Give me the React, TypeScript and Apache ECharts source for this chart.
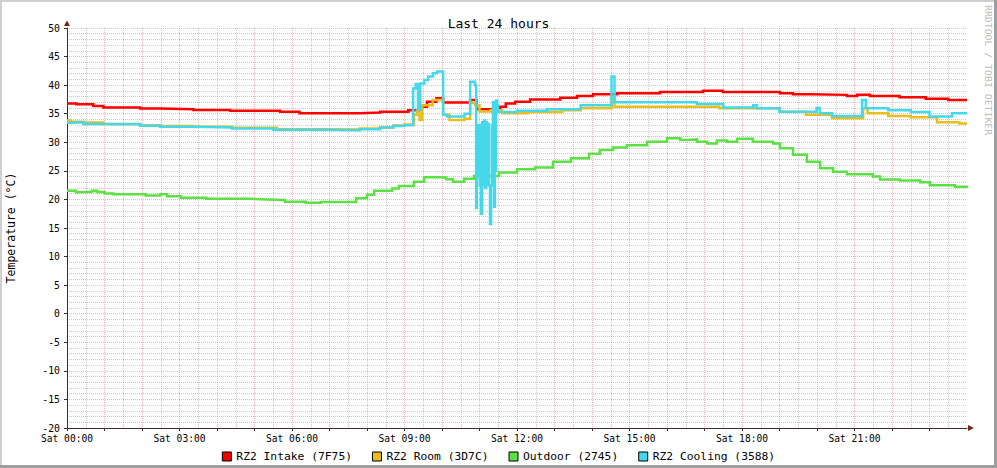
import React, { useEffect, useRef } from "react";
import * as echarts from "echarts";

const FONT = "'DejaVu Sans Mono', monospace";

// x tick labels (hours of Saturday)
const xLabelHours = [0, 3, 6, 9, 12, 15, 18, 21];
const dayName = "Sat";
const titleText = "Last 24 hours";
const yName = "Temperature (°C)";
const watermark = "RRDTOOL / TOBI OETIKER";

const seriesNames = ["RZ2 Intake (7F75)", "RZ2 Room (3D7C)", "Outdoor (2745)", "RZ2 Cooling (3588)"];
const seriesColors = ["#FF0000", "#E8BE1C", "#5CE044", "#44D8EA"];

// RZ2 Intake: hour at which value starts, value
const intakeT = [0, 0.25, 0.7, 0.97, 1.95, 2.48, 3.37, 4.35, 5.68, 6.2, 7.8, 8.35, 9.1, 9.4, 9.6, 9.85, 10.03, 10.75, 10.92, 11.55, 11.7, 11.95, 12.35, 13.15, 13.6, 14.03, 14.67, 15.81, 16.96, 17.49, 19.01, 19.36, 19.81, 20.8, 21.07, 21.41, 22.2, 22.9, 23.5, 24];
const intakeV = [36.8, 36.65, 36.35, 36.1, 35.9, 35.8, 35.65, 35.5, 35.35, 35.1, 35.2, 35.35, 35.6, 36.2, 37.1, 37.7, 36.95, 37.4, 35.8, 36.2, 36.8, 37.1, 37.5, 37.8, 38.1, 38.4, 38.6, 38.8, 39.0, 38.8, 38.6, 38.4, 38.3, 38.1, 38.3, 38.1, 37.9, 37.6, 37.4, 37.4];

// RZ2 Room
const roomT = [0, 0.1, 0.44, 0.97, 1.95, 2.48, 3.37, 4.4, 5.6, 6.9, 7.81, 8.35, 8.7, 9.0, 9.25, 9.33, 9.4, 9.47, 9.75, 10.03, 10.2, 10.6, 10.75, 10.88, 11.0, 11.3, 11.6, 12.3, 13.2, 13.7, 14.52, 14.6, 17.4, 19.0, 19.7, 20.4, 21.23, 21.35, 21.9, 22.5, 23.2, 23.8, 24];
const roomV = [33.8, 33.6, 33.45, 33.2, 33.0, 32.85, 32.7, 32.55, 32.3, 32.25, 32.4, 32.6, 32.95, 33.1, 34.8, 35.5, 33.9, 36.5, 37.4, 34.8, 33.9, 34.1, 36.9, 36.5, 35.4, 35.6, 35.1, 35.3, 35.6, 35.95, 37.7, 36.2, 35.95, 35.35, 34.8, 34.2, 35.95, 35.1, 34.6, 34.4, 33.5, 33.3, 33.3];

// Outdoor
const outT = [0, 0.24, 0.37, 0.67, 0.81, 1.0, 1.24, 2.1, 2.48, 2.67, 3.04, 3.71, 4.96, 5.33, 5.81, 6.37, 6.77, 7.71, 8.0, 8.19, 8.67, 8.85, 9.25, 9.52, 9.92, 10.11, 10.29, 10.59, 10.85, 11.52, 12.0, 12.48, 12.96, 13.44, 13.92, 14.21, 14.56, 14.93, 15.47, 16.0, 16.35, 16.53, 16.8, 17.07, 17.33, 17.6, 17.87, 18.29, 18.83, 19.01, 19.36, 19.73, 20.08, 20.43, 20.8, 21.49, 21.68, 22.21, 22.75, 23.01, 23.68, 24];
const outV = [21.5, 21.25, 21.35, 21.5, 21.3, 21.05, 20.9, 20.7, 20.9, 20.55, 20.3, 20.1, 20.0, 19.9, 19.6, 19.4, 19.55, 20.2, 20.8, 21.5, 21.9, 22.35, 23.1, 23.9, 23.85, 23.55, 23.1, 23.6, 24.1, 24.7, 25.3, 25.6, 26.6, 27.2, 28.0, 28.65, 29.1, 29.5, 30.1, 30.7, 30.4, 30.5, 30.1, 29.8, 30.3, 30.1, 30.6, 30.1, 29.8, 28.95, 27.8, 26.6, 25.45, 24.85, 24.4, 24.0, 23.5, 23.3, 23.0, 22.5, 22.2, 22.0];

// RZ2 Cooling
const coolT = [0, 0.1, 0.44, 0.97, 1.95, 2.48, 3.37, 4.4, 5.5, 6.9, 7.81, 8.35, 8.7, 9.0, 9.23, 9.3, 9.36, 9.42, 9.53, 9.63, 9.76, 9.87, 10.03, 10.13, 10.6, 10.75, 10.88, 10.91, 10.93, 10.96, 10.99, 11.01, 11.04, 11.07, 11.09, 11.12, 11.15, 11.17, 11.2, 11.23, 11.25, 11.28, 11.31, 11.33, 11.36, 11.39, 11.41, 11.44, 11.47, 11.49, 12.0, 12.8, 13.7, 14.52, 14.6, 16.8, 17.5, 18.3, 18.4, 19.0, 19.99, 20.07, 20.4, 21.2, 21.3, 21.9, 22.5, 23.0, 23.6, 24];
const coolV = [33.4, 33.5, 33.2, 33.15, 32.9, 32.7, 32.6, 32.4, 32.2, 32.1, 32.3, 32.6, 32.85, 33.0, 39.4, 40.2, 35.65, 40.3, 40.9, 41.5, 42.1, 42.4, 34.8, 34.5, 35.0, 40.6, 40.0, 18.5, 33.0, 24.0, 33.0, 22.5, 17.5, 33.5, 22.5, 33.8, 22.0, 33.5, 22.5, 33.2, 22.5, 15.7, 22.5, 33.0, 37.0, 18.7, 25.0, 37.3, 36.5, 35.3, 35.5, 35.8, 36.5, 41.5, 37.0, 36.7, 36.1, 36.5, 35.95, 35.35, 36.0, 35.1, 34.6, 37.4, 35.95, 35.6, 35.3, 34.5, 35.1, 35.1];

const AXIS = "#3e2a2a";
const ARROW = "#801F1F";
const MGRID = "rgba(230,90,90,0.45)";
const GRID = "rgba(150,150,150,0.5)";

export default function App() {
  const ref = useRef<HTMLDivElement>(null);
  useEffect(() => {
    const chart = echarts.init(ref.current!, null, { renderer: "svg" });
    const zip = (t: number[], v: number[]) => t.map((h, i) => [h, v[i]]);
    const data = [zip(intakeT, intakeV), zip(roomT, roomV), zip(outT, outV), zip(coolT, coolV)];
    const pad = (n: number) => (n < 10 ? "0" + n : "" + n);
    chart.setOption({
      animation: false,
      backgroundColor: "#ffffff",
      title: {
        text: titleText,
        left: "center",
        top: 12,
        textStyle: { fontFamily: FONT, fontSize: 13, fontWeight: "normal", color: "#000" },
      },
      legend: {
        left: "center",
        top: 446,
        icon: "rect",
        itemWidth: 9,
        itemHeight: 9,
        itemGap: 20,
        itemStyle: { borderColor: "#000", borderWidth: 1 },
        textStyle: { fontFamily: FONT, fontSize: 11.3, color: "#000" },
        data: seriesNames,
      },
      grid: { left: 67, right: 30, top: 28, bottom: 40, containLabel: false },
      xAxis: {
        type: "value",
        min: 0,
        max: 24,
        interval: 1,
        axisLine: { onZero: false, lineStyle: { color: AXIS, width: 1 } },
        axisTick: { show: true, length: 3, lineStyle: { color: AXIS } },
        axisLabel: {
          formatter: (v: number) => (xLabelHours.indexOf(v) >= 0 ? `${dayName} ${pad(v)}:00` : ""),
          fontFamily: FONT,
          fontSize: 9.6,
          color: "#000",
          margin: 5,
          showMaxLabel: false,
        },
        splitLine: { show: true, showMinLine: false, showMaxLine: false, lineStyle: { color: MGRID, width: 1, type: [1, 1] } },
        minorTick: { show: false, splitNumber: 2 },
        minorSplitLine: { show: true, lineStyle: { color: GRID, width: 1, type: [1, 1] } },
      },
      yAxis: {
        type: "value",
        min: -20,
        max: 50,
        interval: 5,
        axisLine: { show: true, onZero: false, lineStyle: { color: AXIS, width: 1 } },
        axisTick: { show: true, length: 3, lineStyle: { color: AXIS } },
        axisLabel: { fontFamily: FONT, fontSize: 9.8, color: "#000", margin: 7 },
        splitLine: { show: true, showMinLine: false, lineStyle: { color: MGRID, width: 1, type: [1, 1] } },
        minorTick: { show: false, splitNumber: 5 },
        minorSplitLine: { show: true, lineStyle: { color: GRID, width: 1, type: [1, 1] } },
      },
      series: seriesNames.map((name, i) => ({
        name,
        type: "line",
        step: "end",
        data: data[i],
        showSymbol: false,
        symbol: "none",
        color: seriesColors[i],
        lineStyle: { width: 2.5, color: seriesColors[i], join: "miter", cap: "butt" },
        z: 2 + i,
      })),
      graphic: [
        { type: "rect", shape: { x: 0, y: 0, width: 997, height: 2 }, style: { fill: "#CFCFCF" }, z: 100 },
        { type: "rect", shape: { x: 0, y: 0, width: 2, height: 468 }, style: { fill: "#CFCFCF" }, z: 100 },
        { type: "rect", shape: { x: 0, y: 465, width: 997, height: 3 }, style: { fill: "#9E9E9E" }, z: 101 },
        { type: "rect", shape: { x: 994, y: 0, width: 3, height: 468 }, style: { fill: "#9E9E9E" }, z: 101 },
        { type: "polygon", shape: { points: [[64, 26], [70, 26], [67, 20.5]] }, style: { fill: ARROW }, z: 100 },
        { type: "polygon", shape: { points: [[968, 425], [968, 431], [974, 428]] }, style: { fill: ARROW }, z: 100 },
        {
          type: "text",
          x: 11,
          y: 228,
          rotation: Math.PI / 2,
          style: { text: yName, fontFamily: FONT, fontSize: 11.5, fill: "#000", align: "center", verticalAlign: "middle" },
          z: 100,
        },
        {
          type: "text",
          x: 988,
          y: 5,
          rotation: -Math.PI / 2,
          style: { text: watermark, fontFamily: FONT, fontSize: 8.2, fill: "#bdbdbd", align: "left", verticalAlign: "middle" },
          scaleX: 1.2,
          z: 100,
        },
      ],
    });
    return () => chart.dispose();
  }, []);
  return <div ref={ref} style={{ position: "fixed", left: 0, top: 0, width: 997, height: 468 }} />;
}
